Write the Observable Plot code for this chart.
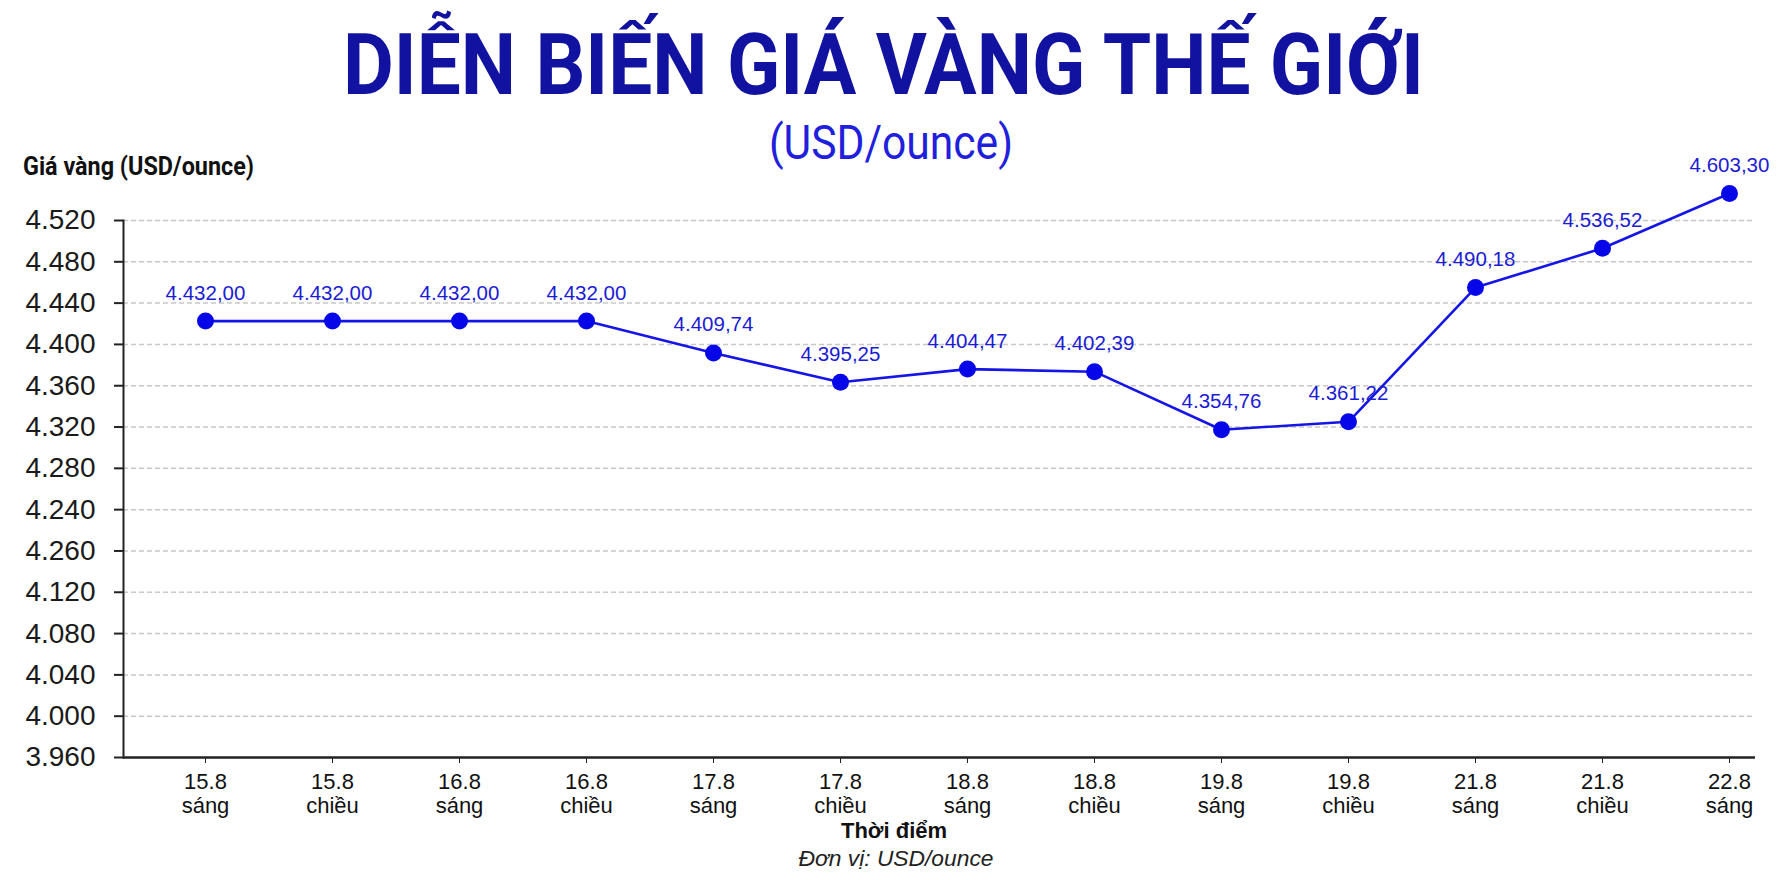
<!DOCTYPE html>
<html>
<head>
<meta charset="utf-8">
<script src="https://cdn.jsdelivr.net/npm/d3@7"></script>
<script src="https://cdn.jsdelivr.net/npm/@observablehq/plot@0.6"></script>
<style>
  html, body { margin: 0; padding: 0; background: #ffffff; }
  #wrap { position: relative; width: 1788px; height: 880px; overflow: hidden; background: #fff; }
  #chart { position: absolute; left: 0; top: 0; }
  #overlay { position: absolute; left: 0; top: 0; pointer-events: none; }
</style>
</head>
<body>
<div id="wrap">
  <div id="chart"></div>
  <svg id="overlay" width="1788" height="880" xmlns="http://www.w3.org/2000/svg">
    <text x="343" y="94" textLength="1081" lengthAdjust="spacingAndGlyphs"
          font-family="Roboto, 'Liberation Sans', Arial, sans-serif" font-weight="700" font-size="85" fill="#1212a0">DIỄN BIẾN GIÁ VÀNG THẾ GIỚI</text>
    <text x="769" y="159" textLength="244" lengthAdjust="spacingAndGlyphs"
          font-family="Roboto, 'Liberation Sans', Arial, sans-serif" font-weight="400" font-size="48" fill="#1f1fdc">(USD/ounce)</text>
    <text x="23" y="175" textLength="231" lengthAdjust="spacingAndGlyphs"
          font-family="Roboto, 'Liberation Sans', Arial, sans-serif" font-weight="700" font-size="25" fill="#111">Giá vàng (USD/ounce)</text>
    <text x="894" y="838" text-anchor="middle"
          font-family="'Liberation Sans', Arial, sans-serif" font-weight="700" font-size="22" fill="#111">Thời điểm</text>
    <text x="896" y="866" text-anchor="middle" textLength="195" lengthAdjust="spacingAndGlyphs"
          font-family="'Liberation Sans', Arial, sans-serif" font-style="italic" font-size="22" fill="#222">Đơn vị: USD/ounce</text>
  </svg>
</div>
<script>
// ---- data ----
const dates = ["15.8","15.8","16.8","16.8","17.8","17.8","18.8","18.8","19.8","19.8","21.8","21.8","22.8"];
const sessions = ["sáng","chiều","sáng","chiều","sáng","chiều","sáng","chiều","sáng","chiều","sáng","chiều","sáng"];
// printed value labels
const priceLabels = ["4.432,00","4.432,00","4.432,00","4.432,00","4.409,74","4.395,25","4.404,47","4.402,39","4.354,76","4.361,22","4.490,18","4.536,52","4.603,30"];
// point heights as read against the printed y axis (upper gridlines)
const plotted = [4422.6, 4422.6, 4422.6, 4422.6, 4391.8, 4363.3, 4376.1, 4373.6, 4317.4, 4325.1, 4455.1, 4493.1, 4546.2];
// y axis: evenly spaced gridlines (bottom to top) and the labels printed on them in the source
const yTicks = [4000, 4040, 4080, 4120, 4160, 4200, 4240, 4280, 4320, 4360, 4400, 4440, 4480, 4520];
const yTickLabels = ["3.960","4.000","4.040","4.080","4.120","4.260","4.240","4.280","4.320","4.360","4.400","4.440","4.480","4.520"];

const data = dates.map((d, i) => ({i, date: d, session: sessions[i], value: plotted[i], label: priceLabels[i]}));
const gridTicks = yTicks.slice(1);
const domainY = [yTicks[0], yTicks[yTicks.length - 1]];

const chart = Plot.plot({
  width: 1788,
  height: 880,
  marginLeft: 123,
  marginRight: 33,
  marginTop: 220,
  marginBottom: 123,
  style: {fontFamily: "'Liberation Sans', Arial, sans-serif", background: "transparent", color: "#222"},
  x: {type: "point", domain: d3.range(dates.length), padding: 0.4, align: 0.755},
  y: {domain: domainY},
  marks: [
    Plot.ruleY(gridTicks, {stroke: "#c8c8c8", strokeWidth: 1.5, strokeDasharray: "5,3"}),
    Plot.axisY({
      ticks: yTicks,
      tickFormat: d => yTickLabels[yTicks.indexOf(d)],
      tickSize: 9, tickPadding: 19, fontSize: 28, strokeWidth: 2,
      label: null, fill: "#1a1a1a"
    }),
    Plot.axisX({
      tickFormat: i => dates[i] + "\n" + sessions[i],
      tickSize: 6, tickPadding: 9, fontSize: 22, lineHeight: 1.07,
      label: null, fill: "#111"
    }),
    Plot.frame({anchor: "left", stroke: "#222", strokeWidth: 2}),
    Plot.ruleY([domainY[0]], {stroke: "#222", strokeWidth: 2.5}),
    Plot.line(data, {x: "i", y: "value", stroke: "#1515e6", strokeWidth: 2.6}),
    Plot.dot(data, {x: "i", y: "value", r: 8.5, fill: "#0606e8", stroke: "none"}),
    Plot.text(data, {x: "i", y: "value", text: "label", dy: -28, fill: "#1c1cd4", fontSize: 20.5})
  ]
});
document.getElementById("chart").appendChild(chart);
</script>
</body>
</html>
